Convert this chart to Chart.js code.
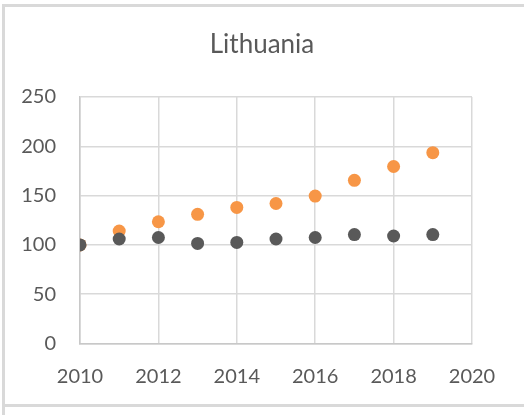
<!DOCTYPE html>
<html>
<head>
<meta charset="utf-8">
<script src="https://cdn.jsdelivr.net/npm/chart.js@4/dist/chart.umd.min.js"></script>
<style>
  html, body { margin: 0; padding: 0; background: #fff; }
  #wrap { position: relative; width: 524px; height: 415px; overflow: hidden; }
  canvas { position: absolute; left: 0; top: 0; }
  .ln { position: absolute; background: #d9d9d9; }
</style>
</head>
<body>
<div id="wrap">
  <canvas id="c" width="524" height="415"></canvas>
  <div class="ln" style="left:2px; top:4px; width:522px; height:3px;"></div>
  <div class="ln" style="left:2px; top:4px; width:3px; height:411px;"></div>
  <div class="ln" style="left:5px; top:404px; width:519px; height:3px;"></div>
</div>
<script>
const title = "Lithuania";
const years = [2010, 2011, 2012, 2013, 2014, 2015, 2016, 2017, 2018, 2019];
const seriesGray = [100, 106, 107.5, 101.5, 102.5, 106, 107.5, 110.5, 109, 110.5];
const seriesOrange = [100, 114, 123.5, 131, 138, 142, 149.5, 165.5, 179.5, 193.5];
const xTicks = [2010, 2012, 2014, 2016, 2018, 2020];
const yTicks = [0, 50, 100, 150, 200, 250];

const toPts = (vals) => years.map((x, i) => ({ x: x, y: vals[i] }));
const FONT = "Lato, 'Open Sans', sans-serif";
const TXT = "#595959";

new Chart(document.getElementById("c"), {
  type: "scatter",
  data: {
    datasets: [
      { label: "Series 2", data: toPts(seriesGray), backgroundColor: "#595959", borderColor: "#595959", pointRadius: 6.5, pointHoverRadius: 6.5, borderWidth: 0 },
      { label: "Series 1", data: toPts(seriesOrange), backgroundColor: "#F79646", borderColor: "#F79646", pointRadius: 6.5, pointHoverRadius: 6.5, borderWidth: 0 }
    ]
  },
  options: {
    responsive: false,
    animation: false,
    events: [],
    layout: { padding: 0 },
    plugins: {
      legend: { display: false },
      tooltip: { enabled: false },
      title: {
        display: true,
        text: title,
        color: TXT,
        font: { family: FONT, size: 26, weight: "normal", lineHeight: 1.2 },
        padding: { top: 29.4, bottom: 36.4 }
      }
    },
    scales: {
      x: {
        type: "linear",
        min: xTicks[0],
        max: xTicks[xTicks.length - 1],
        afterBuildTicks: (s) => { s.ticks = xTicks.map(v => ({ value: v })); },
        afterFit: (s) => { s.height = 71.5; },
        grid: { color: "#d9d9d9", lineWidth: 1.5, drawTicks: false },
        border: { color: "#c8c8c8", width: 1.5 },
        ticks: { color: TXT, font: { family: FONT, size: 20 }, padding: 21, callback: (v) => String(v) }
      },
      y: {
        min: yTicks[0],
        max: yTicks[yTicks.length - 1],
        afterBuildTicks: (s) => { s.ticks = yTicks.map(v => ({ value: v })); },
        afterFit: (s) => { s.width = 80; },
        grid: { color: "#d9d9d9", lineWidth: 1.5, drawTicks: false },
        border: { color: "#c8c8c8", width: 1.5 },
        ticks: { color: TXT, font: { family: FONT, size: 20 }, padding: 24, callback: (v) => String(v) }
      },
      yRight: {
        position: "right",
        display: true,
        min: 0,
        max: 1,
        afterFit: (s) => { s.width = 52; },
        grid: { display: false, drawTicks: false },
        border: { display: false },
        ticks: { display: false }
      }
    }
  }
});
</script>
</body>
</html>
